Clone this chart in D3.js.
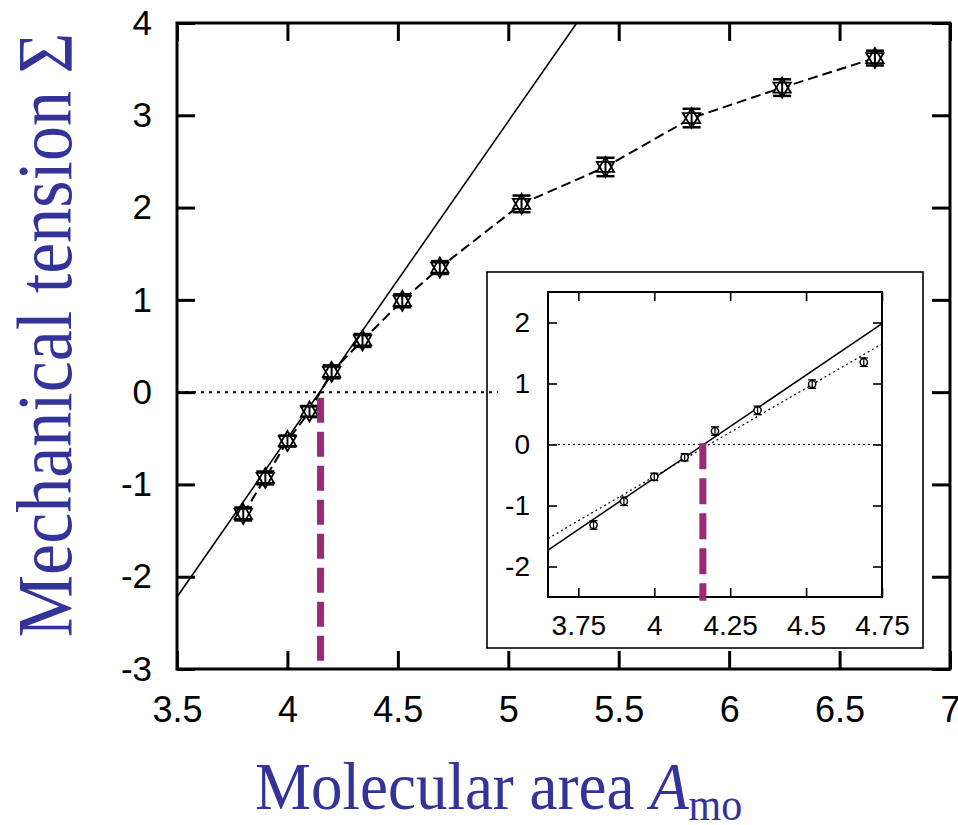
<!DOCTYPE html>
<html>
<head>
<meta charset="utf-8">
<script src="https://cdn.jsdelivr.net/npm/d3@7/dist/d3.min.js"></script>
<style>
body { margin: 0; background: #fff; }
</style>
</head>
<body>
<script>
// data
var area = [3.80, 3.90, 4.00, 4.10, 4.20, 4.34, 4.52, 4.69, 5.06, 5.44, 5.83, 6.24, 6.66];
var tension = [-1.32, -0.93, -0.53, -0.21, 0.22, 0.56, 0.99, 1.35, 2.04, 2.44, 2.97, 3.30, 3.62];
var tensionErr = [0.07, 0.07, 0.06, 0.06, 0.07, 0.07, 0.07, 0.07, 0.09, 0.10, 0.10, 0.09, 0.08];
// straight fit of main plot (end points)
var fitMainX = [3.5, 5.31];
var fitMainY = [-2.22, 4.0];
// inset fits
var fitInX = [3.65, 4.75];
var fitInSolidY = [-1.73, 1.98];
var fitInDotY = [-1.54, 1.65];
// zero crossing (purple marker)
var zeroMain = 4.15;
var zeroIn = 4.16;

var xTicks = [3.5, 4, 4.5, 5, 5.5, 6, 6.5, 7];
var yTicks = [-3, -2, -1, 0, 1, 2, 3, 4];
var xTicksIn = [3.75, 4, 4.25, 4.5, 4.75];
var yTicksIn = [-2, -1, 0, 1, 2];

var pts = area.map(function (d, i) { return {x: d, y: tension[i], e: tensionErr[i]}; });
var ptsIn = pts.filter(function (d) { return d.x <= 4.75; });

var svg = d3.select("body")
    .append("svg")
    .attr("width", 958)
    .attr("height", 825)
    .style('display', 'block');

var sans = "'Liberation Sans', Arial, Helvetica, sans-serif";
var serif = "'Liberation Serif', 'Times New Roman', serif";
var purple = '#9a2a78';
var blue = '#333399';

//main scales
var x = d3.scaleLinear().domain([3.5, 7]).range([177, 950]);
var y = d3.scaleLinear().domain([-3, 4]).range([669, 23]);

svg.append('clipPath').attr('id', 'clipMain')
    .append('rect')
    .attr('x', 177).attr('y', 23).attr('width', 773).attr('height', 646);

function styleAxis(g, fs, sw) {
    g.select('.domain').remove();
    g.selectAll('.tick line').attr('stroke', '#000').attr('stroke-width', sw);
    g.selectAll('.tick text').attr('fill', '#000').style('font-size', fs + 'px').style('font-family', sans);
}
var fmt = function (d) { return String(d); };

svg.append('g').attr('transform', 'translate(0,669)')
    .call(d3.axisBottom(x).tickValues(xTicks).tickFormat(fmt).tickSizeInner(-18).tickSizeOuter(0).tickPadding(27))
    .call(function (g) { styleAxis(g, 36, 3); });
svg.append('g').attr('transform', 'translate(0,23)')
    .call(d3.axisTop(x).tickValues(xTicks).tickFormat('').tickSizeInner(-18).tickSizeOuter(0))
    .call(function (g) { styleAxis(g, 36, 3); });
svg.append('g').attr('transform', 'translate(177,0)')
    .call(d3.axisLeft(y).tickValues(yTicks).tickFormat(fmt).tickSizeInner(-18).tickSizeOuter(0).tickPadding(25))
    .call(function (g) { styleAxis(g, 35, 3); });
svg.append('g').attr('transform', 'translate(950,0)')
    .call(d3.axisRight(y).tickValues(yTicks).tickFormat('').tickSizeInner(-18).tickSizeOuter(0))
    .call(function (g) { styleAxis(g, 35, 3); });

svg.append('rect')
    .attr('x', x(3.5)).attr('y', y(4))
    .attr('width', x(7) - x(3.5)).attr('height', y(-3) - y(4))
    .attr('fill', 'none').attr('stroke', '#000').attr('stroke-width', 3);

var plot = svg.append('g').attr('clip-path', 'url(#clipMain)');

//fit line
var fitLine = d3.line().x(function (d) { return x(d[0]); }).y(function (d) { return y(d[1]); });
plot.append('path')
    .attr('d', fitLine(d3.zip(fitMainX, fitMainY)))
    .attr('fill', 'none').attr('stroke', '#000').attr('stroke-width', 1.6);

//dashed data line
plot.append('path')
    .attr('d', d3.line().x(function (d) { return x(d.x); }).y(function (d) { return y(d.y); })(pts))
    .attr('fill', 'none').attr('stroke', '#000').attr('stroke-width', 2)
    .attr('stroke-dasharray', '10,5');

//markers
var tri = d3.symbol().type(d3.symbolTriangle).size(130);
var mk = plot.selectAll('.mk').data(pts).enter().append('g')
    .attr('transform', function (d) { return 'translate(' + x(d.x) + ',' + y(d.y) + ')'; });
mk.append('path').attr('d', tri).attr('fill', '#fff').attr('stroke', '#000').attr('stroke-width', 1.8);
mk.append('path').attr('d', tri).attr('transform', 'rotate(180)')
    .attr('fill', 'none').attr('stroke', '#000').attr('stroke-width', 1.8);
mk.append('line')
    .attr('x1', 0).attr('x2', 0)
    .attr('y1', function (d) { return y(d.y + d.e) - y(d.y); })
    .attr('y2', function (d) { return y(d.y - d.e) - y(d.y); })
    .attr('stroke', '#000').attr('stroke-width', 2);
[1, -1].forEach(function (s) {
    mk.append('line')
        .attr('x1', -9).attr('x2', 9)
        .attr('y1', function (d) { return y(d.y + s * d.e) - y(d.y); })
        .attr('y2', function (d) { return y(d.y + s * d.e) - y(d.y); })
        .attr('stroke', '#000').attr('stroke-width', 2.5);
});

//inset box
var xi = d3.scaleLinear().domain([3.65, 4.75]).range([548, 882]);
var yi = d3.scaleLinear().domain([-2.5, 2.5]).range([597, 292]);

svg.append('rect')
    .attr('x', 487).attr('y', 272).attr('width', 436).attr('height', 376)
    .attr('fill', '#fff').attr('stroke', '#000').attr('stroke-width', 1.6);

//zero line main (drawn after the inset box, stops short)
svg.append('line')
    .attr('x1', x(3.5)).attr('x2', 498)
    .attr('y1', y(0)).attr('y2', y(0))
    .attr('stroke', '#000').attr('stroke-width', 2).attr('stroke-dasharray', '3,5');

//main purple marker
svg.append('line')
    .attr('x1', x(zeroMain)).attr('x2', x(zeroMain))
    .attr('y1', y(-0.06)).attr('y2', y(-2.93))
    .attr('stroke', purple).attr('stroke-width', 7)
    .attr('stroke-dasharray', '25,9');

var inset = svg.append('g');
inset.append('g').attr('transform', 'translate(0,597)')
    .call(d3.axisBottom(xi).tickValues(xTicksIn).tickFormat(fmt).tickSizeInner(-9).tickSizeOuter(0).tickPadding(18))
    .call(function (g) { styleAxis(g, 28, 1.6); });
inset.append('g').attr('transform', 'translate(0,292)')
    .call(d3.axisTop(xi).tickValues(xTicksIn).tickFormat('').tickSizeInner(-9).tickSizeOuter(0))
    .call(function (g) { styleAxis(g, 28, 1.6); });
inset.append('g').attr('transform', 'translate(548,0)')
    .call(d3.axisLeft(yi).tickValues(yTicksIn).tickFormat(fmt).tickSizeInner(-9).tickSizeOuter(0).tickPadding(18))
    .call(function (g) { styleAxis(g, 28, 1.6); });
inset.append('g').attr('transform', 'translate(882,0)')
    .call(d3.axisRight(yi).tickValues(yTicksIn).tickFormat('').tickSizeInner(-9).tickSizeOuter(0))
    .call(function (g) { styleAxis(g, 28, 1.6); });
inset.append('rect')
    .attr('x', 548).attr('y', 292).attr('width', 334).attr('height', 305)
    .attr('fill', 'none').attr('stroke', '#000').attr('stroke-width', 2);

inset.append('line')
    .attr('x1', xi(3.65)).attr('x2', xi(4.75))
    .attr('y1', yi(0)).attr('y2', yi(0))
    .attr('stroke', '#000').attr('stroke-width', 1.2).attr('stroke-dasharray', '2,3');

var lineIn = d3.line().x(function (d) { return xi(d[0]); }).y(function (d) { return yi(d[1]); });
inset.append('path')
    .attr('d', lineIn(d3.zip(fitInX, fitInSolidY)))
    .attr('fill', 'none').attr('stroke', '#000').attr('stroke-width', 1.5);
inset.append('path')
    .attr('d', lineIn(d3.zip(fitInX, fitInDotY)))
    .attr('fill', 'none').attr('stroke', '#000').attr('stroke-width', 1.2)
    .attr('stroke-dasharray', '2,3');

var mi = inset.selectAll('.mi').data(ptsIn).enter().append('g')
    .attr('transform', function (d) { return 'translate(' + xi(d.x) + ',' + yi(d.y) + ')'; });
mi.append('circle').attr('r', 3.6).attr('fill', '#fff').attr('stroke', '#000').attr('stroke-width', 1.5);
mi.append('line')
    .attr('x1', 0).attr('x2', 0)
    .attr('y1', function (d) { return yi(d.y + d.e) - yi(d.y); })
    .attr('y2', function (d) { return yi(d.y - d.e) - yi(d.y); })
    .attr('stroke', '#000').attr('stroke-width', 1.3);
[1, -1].forEach(function (s) {
    mi.append('line')
        .attr('x1', -4).attr('x2', 4)
        .attr('y1', function (d) { return yi(d.y + s * d.e) - yi(d.y); })
        .attr('y2', function (d) { return yi(d.y + s * d.e) - yi(d.y); })
        .attr('stroke', '#000').attr('stroke-width', 1.3);
});

inset.append('line')
    .attr('x1', xi(zeroIn)).attr('x2', xi(zeroIn))
    .attr('y1', yi(0.02)).attr('y2', yi(-2.56))
    .attr('stroke', purple).attr('stroke-width', 7)
    .attr('stroke-dasharray', '26,9');

//axis titles
svg.append('text')
    .attr('transform', 'translate(71,335) rotate(-90) scale(1,1.12)')
    .attr('text-anchor', 'middle')
    .style('font-family', serif)
    .style('font-size', '70px')
    .attr('fill', blue)
    .text('Mechanical tension \u03A3');

var xl = svg.append('text')
    .attr('transform', 'translate(255,809) scale(1,1.08)')
    .style('font-family', serif)
    .style('font-size', '63px')
    .attr('fill', blue);
xl.append('tspan').text('Molecular area ');
xl.append('tspan').style('font-style', 'italic').text('A');
xl.append('tspan').attr('dy', 10).style('font-size', '42px').text('mo');
</script>
</body>
</html>
